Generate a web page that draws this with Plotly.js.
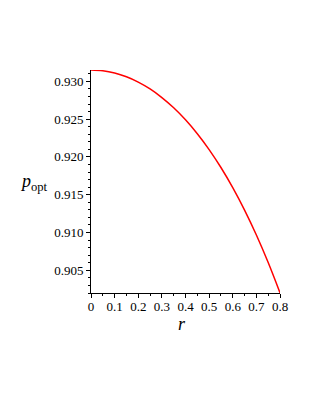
<!DOCTYPE html>
<html><head><meta charset="utf-8">
<script src="https://cdn.plot.ly/plotly-3.0.1.min.js"></script>
<style>html,body{margin:0;padding:0;background:#fff}#c{width:311px;height:402px}</style>
</head><body><div id="c"></div>
<script>
const rValues = [0,0.05,0.1,0.15,0.2,0.25,0.3,0.35,0.4,0.45,0.5,0.55,0.6,0.65,0.7,0.75,0.8];
const pOpt = [0.93150,0.93140,0.93110,0.93060,0.92990,0.92899,0.92785,0.92650,0.92491,0.92307,0.92097,0.91860,0.91594,0.91297,0.90967,0.90603,0.90202];
const xTicks = [0,0.1,0.2,0.3,0.4,0.5,0.6,0.7,0.8];
const yTicks = [0.905,0.910,0.915,0.920,0.925,0.930];

const font = {family:'Liberation Serif', size:13, color:'#000'};
Plotly.newPlot('c', [{
  x: rValues, y: pOpt, mode:'lines', type:'scatter',
  line:{color:'#ff0000', width:1.5, shape:'spline'}, hoverinfo:'skip'
}], {
  width:311, height:402,
  margin:{l:91, r:31, t:70, b:109},
  paper_bgcolor:'#fff', plot_bgcolor:'#fff',
  showlegend:false, font: font,
  xaxis:{range:[0,0.8], tickvals:xTicks, ticktext:xTicks.map(v=>String(v)),
    showline:true, linecolor:'#000', linewidth:1, ticks:'outside', ticklen:4, tickcolor:'#000',
    ticklabelstandoff:-3,
    showgrid:false, zeroline:false, tickfont:font,
    minor:{dtick:0.05, tick0:0, ticks:'outside', ticklen:2, tickcolor:'#000', showgrid:false}},
  yaxis:{range:[0.9020,0.9315], tickvals:yTicks, ticktext:yTicks.map(v=>v.toFixed(3)),
    showline:true, linecolor:'#000', linewidth:1, ticks:'outside', ticklen:4, tickcolor:'#000',
    showgrid:false, zeroline:false, tickfont:font,
    minor:{dtick:0.001, tick0:0.9, ticks:'outside', ticklen:2, tickcolor:'#000', showgrid:false}},
  annotations:[
    {text:'<i>p</i><sub>opt</sub>', xref:'paper', yref:'paper', x:-0.30, y:0.497, xanchor:'center', yanchor:'middle', showarrow:false, font:{family:'Liberation Serif', size:18, color:'#000'}},
    {text:'<i>r</i>', xref:'paper', yref:'paper', x:0.48, y:-0.137, xanchor:'center', yanchor:'middle', showarrow:false, font:{family:'Liberation Serif', size:18, color:'#000'}}
  ]
}, {displayModeBar:false, staticPlot:true});
</script></body></html>
